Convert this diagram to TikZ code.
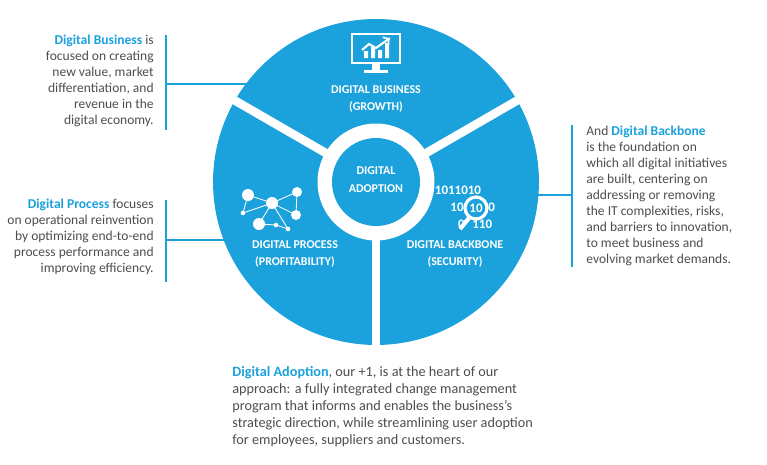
\documentclass[tikz,border=0pt]{standalone}
\usepackage{fontspec}
\setmainfont{Carlito}
\usetikzlibrary{calc}
\definecolor{dblue}{HTML}{1BA1DB}
\definecolor{dgray}{HTML}{4D4D4F}
\tikzset{
  body/.style={text=dgray,font=\fontsize{7.7}{9.1}\selectfont,inner sep=0pt},
  seglabel/.style={text=white,font=\bfseries\fontsize{6.8}{8.2}\selectfont,align=center,inner sep=0pt},
  leader/.style={dblue,line width=1.2pt},
  bits/.style={text=white,font=\bfseries\fontsize{7.4}{7.4}\selectfont,inner sep=0pt}
}
\newcommand{\hl}[1]{\textcolor{dblue}{\textbf{#1}}}
\begin{document}
\begin{tikzpicture}[x=0.02cm,y=-0.02cm]
  \useasboundingbox (0,0) rectangle (767,464);
  %
  \coordinate (c) at (376,182);
  \coordinate (l1a) at (166,35);  \coordinate (l1b) at (166,130);
  \coordinate (l1c) at (166,84);  \coordinate (l1d) at (260,84);
  \coordinate (l2a) at (166,200); \coordinate (l2b) at (166,282);
  \coordinate (l2c) at (166,240); \coordinate (l2d) at (240,240);
  \coordinate (r1a) at (572,125); \coordinate (r1b) at (572,267);
  \coordinate (r1c) at (537,195); \coordinate (r1d) at (572,195);
  %
  \draw[leader] (l1a) -- (l1b);
  \draw[leader] (l1c) -- (l1d);
  \draw[leader] (l2a) -- (l2b);
  \draw[leader] (l2c) -- (l2d);
  \draw[leader] (r1a) -- (r1b);
  \draw[leader] (r1c) -- (r1d);
  %
  \fill[dblue] (c) circle (3.26cm);
  \foreach \a in {30,150,270}
    \draw[white,line width=0.17cm] (c) -- ($(c)+(\a:3.4cm)$);
  \fill[white] (c) circle (1.17cm);
  \fill[dblue] (c) circle (0.88cm);
  %
  \node[seglabel] (adopt) at (376,180) {DIGITAL\\[2pt]ADOPTION};
  \node[seglabel] (bus) at (376,99) {DIGITAL BUSINESS\\[2pt](GROWTH)};
  \node[seglabel] (proc) at (295,254) {DIGITAL PROCESS\\[2pt](PROFITABILITY)};
  \node[seglabel] (back) at (455,254) {DIGITAL BACKBONE\\[2pt](SECURITY)};
  %
  % monitor
  \draw[white,line width=1.6pt] (352,34) rectangle (400,63);
  \fill[white] (372,63) rectangle (380,70);
  \fill[white] (364,70) rectangle (388,73);
  \fill[white] (364,58) rectangle (368,51) (371,58) rectangle (375,47)
    (378,58) rectangle (382,50) (385,58) rectangle (389,43);
  \draw[white,line width=1.2pt,->] (362,50) -- (369,44) -- (376,48) -- (390,38);
  %
  % network
  \draw[white,line width=0.5pt] (248,195) -- (272,203) -- (297,192) -- (296,215) -- (272,203)
    (243,213) -- (272,203) -- (259,224) -- (276,225) -- (288,229) -- (272,203)
    (248,195) -- (243,213);
  \foreach \p/\q/\r in {248/195/6,272/203/6,297/192/5,296/215/5,259/224/6,
                        243/213/2.3,276/225/2.3,288/229/2.3}
    \fill[white] (\p,\q) circle (\r*0.02cm);
  %
  % binary with lens
  \node[bits] (b1) at (458,190) {1011010};
  \node[bits,anchor=east] (b2) at (464,207) {10};
  \node[bits,anchor=west] (b2r) at (488,207) {0};
  \node[bits,anchor=east] (b3) at (465,224) {0};
  \node[bits,anchor=west] (b3r) at (472,224) {110};
  \draw[white,line width=2.4pt] (469,218) -- (460,229);
  \draw[white,line width=1.8pt,fill=dblue] (476,208) circle (0.22cm);
  \node[bits] (lens) at (476,208) {10};
  %
  \node[body,align=right,anchor=north east] (t1) at (154,35)
    {\hl{Digital Business} is\\focused on creating\\new value, market\\differentiation, and\\revenue in the\\digital economy.};
  \node[body,align=right,anchor=north east] (t2) at (154,199)
    {\hl{Digital Process} focuses\\on operational reinvention\\by optimizing end-to-end\\process performance and\\improving efficiency.};
  \node[body,align=left,anchor=north west] (t3) at (586,126)
    {And \hl{Digital Backbone}\\is the foundation on\\which all digital initiatives\\are built, centering on\\addressing or removing\\the IT complexities, risks,\\and barriers to innovation,\\to meet business and\\evolving market demands.};
  \node[body,align=left,anchor=north west,font=\fontsize{8.1}{9.7}\selectfont] (t4) at (232,366)
    {\hl{Digital Adoption}, our +1, is at the heart of our\\approach: a fully integrated change management\\program that informs and enables the business's\\strategic direction, while streamlining user adoption\\for employees, suppliers and customers.};
\end{tikzpicture}
\end{document}
